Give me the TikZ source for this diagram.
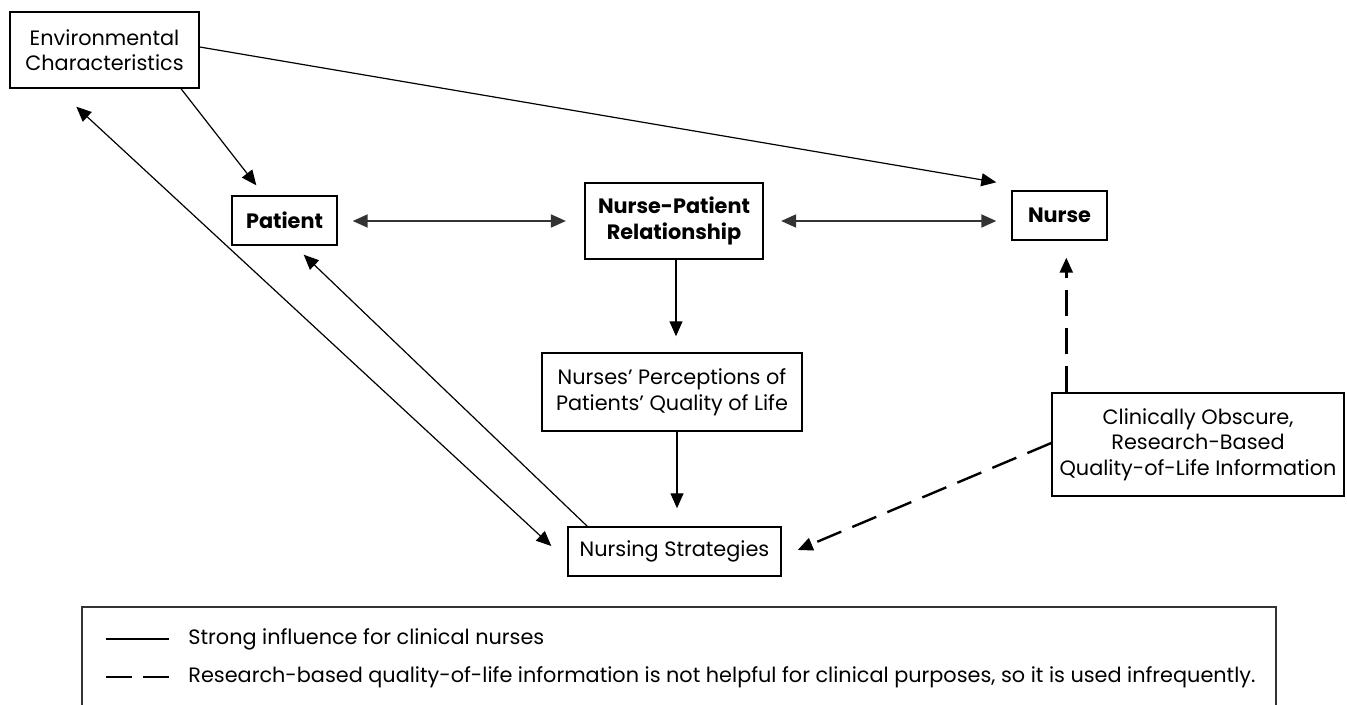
\documentclass[tikz,border=0pt]{standalone}
\usepackage{fontspec}
\setmainfont{Poppins}
\usetikzlibrary{arrows.meta,calc}
\begin{document}
\begin{tikzpicture}[x=0.5pt,y=-0.5pt,
  box/.style={draw=black,line width=0.7pt,inner sep=0pt,align=center,
    font=\fontsize{10.4}{12.8}\selectfont},
  boldbox/.style={box,font=\fontsize{10.4}{12.8}\selectfont\bfseries},
  arr/.style={line width=0.6pt,-{Triangle[length=7.5pt,width=6.5pt]}},
  darr/.style={line width=0.9pt,draw=black!80,{Triangle[length=7.5pt,width=6.5pt]}-{Triangle[length=7.5pt,width=6.5pt]}},
  sarr/.style={line width=0.6pt,{Triangle[length=7.5pt,width=6.5pt]}-{Triangle[length=7.5pt,width=6.5pt]}},
  dasharr/.style={line width=1.2pt,dash pattern=on 13pt off 6pt,-{Triangle[length=7.5pt,width=6.5pt]}},
  legtext/.style={anchor=west,inner sep=0pt,font=\fontsize{10.4}{12.8}\selectfont}
]
\useasboundingbox (0,0) rectangle (1347,705);

% nodes
\node[box,minimum width=94.5pt,minimum height=38pt] (env) at (104.5,50)
  {Environmental\\Characteristics};
\node[boldbox,minimum width=52.5pt,minimum height=24.5pt] (patient) at (284.5,220.5) {Patient};
\node[boldbox,line width=1.1pt,minimum width=89pt,minimum height=38pt] (npr) at (674,221)
  {Nurse-Patient\\Relationship};
\node[boldbox,minimum width=47.5pt,minimum height=24.5pt] (nurse) at (1059.5,215.5) {Nurse};
\node[box,minimum width=130pt,minimum height=39pt] (perc) at (672,392)
  {Nurses’ Perceptions of\\Patients’ Quality of Life};
\node[box,minimum width=106.5pt,minimum height=24.5pt] (strat) at (674.5,551.5) {Nursing Strategies};
\node[box,minimum width=146pt,minimum height=51.5pt] (clin) at (1198,444.5)
  {Clinically Obscure,\\Research-Based\\Quality-of-Life Information};

% helper coordinates
\coordinate (npra) at ($(npr.south)+(2,0)$);
\coordinate (perca) at ($(perc.south)+(5,0)$);
\coordinate (clina) at ($(clin.north west)+(15,0)$);

% connectors
\draw[arr] ($(env.south)+(76.5,0)$) -- ($(patient.north west)+(25,-10)$);
\draw[arr] ($(env.east)+(0,-3)$) -- ($(nurse.north west)+(-15,-8)$);
\draw[darr] ($(patient.east |- npr.west)+(15,0)$) -- ($(npr.west)+(-18,0)$);
\draw[darr] ($(npr.east)+(17,0)$) -- ($(nurse.west |- npr.east)+(-15,0)$);
\draw[arr,shorten >=8pt] (npra) -- (npra |- perc.north);
\draw[arr,shorten >=9pt] (perca) -- (perca |- strat.north);
\draw[sarr] ($(env.south west)+(67,18)$) -- ($(strat.west)+(-16,-5.5)$);
\draw[arr] ($(strat.north west)+(20,0)$) -- ($(patient.south east)+(-34,9)$);
\draw[dasharr,shorten >=8.5pt] (clina) -- (clina |- nurse.south);
\draw[dasharr] ($(clin.west)+(0,-1.5)$) -- ($(strat.east)+(16,-1.5)$);

% legend
\draw[line width=0.75pt,draw=black!80] (82,712) -- (82,607) -- (1276,607) -- (1276,712);
\node[legtext] (leg1) at (188,639) {Strong influence for clinical nurses};
\node[legtext] (leg2) at (188,677) {Research-based quality-of-life information is not helpful for clinical purposes, so it is used infrequently.};
\draw[line width=0.6pt] ($(leg1.west)+(-82,0)$) -- ($(leg1.west)+(-19,0)$);
\draw[line width=1.2pt,dash pattern=on 13pt off 5.5pt] ($(leg2.west)+(-82,0)$) -- ($(leg2.west)+(-19,0)$);
\end{tikzpicture}
\end{document}
